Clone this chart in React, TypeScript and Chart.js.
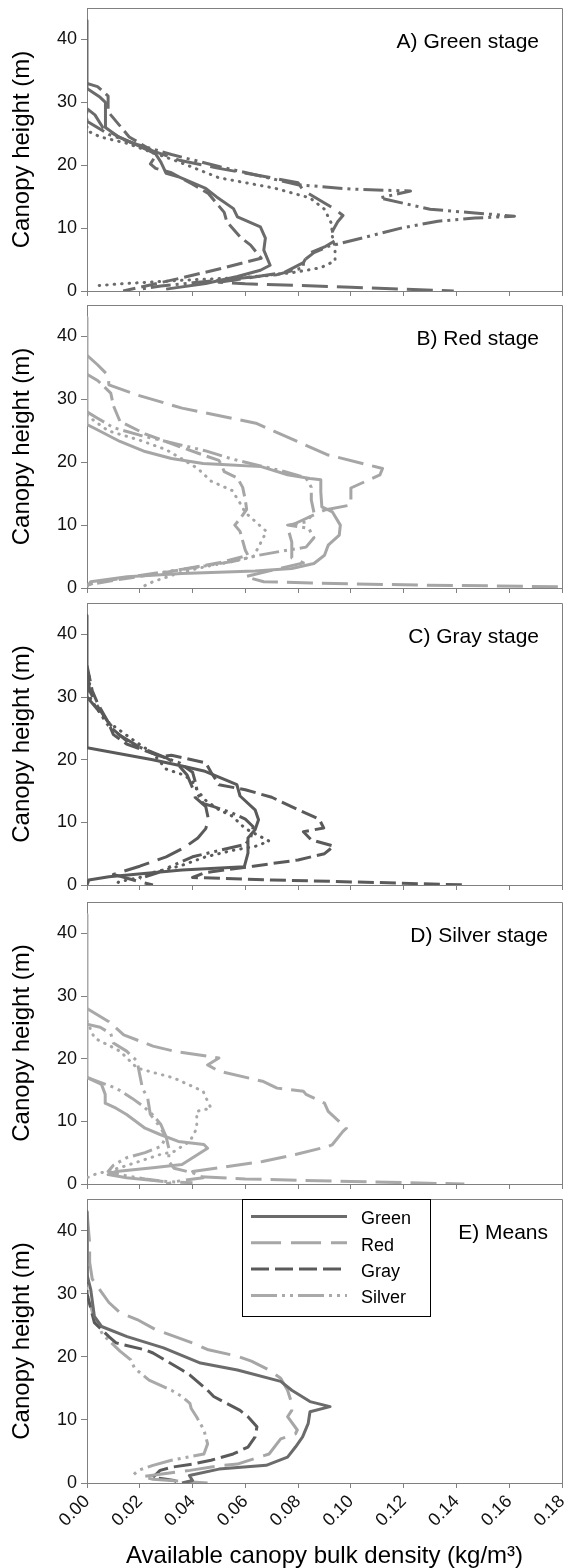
import React, { useEffect, useRef } from "react";
import { Chart, registerables } from "chart.js";

Chart.register(...registerables);

type Pt = [number, number]; // [bulk density kg/m3, canopy height m]

// ---------- tick values & texts ----------
const xTickValues = [0, 0.02, 0.04, 0.06, 0.08, 0.1, 0.12, 0.14, 0.16, 0.18];
const yTickValues = [0, 10, 20, 30, 40];
const panelTitles = ["A) Green stage", "B) Red stage", "C) Gray stage", "D) Silver stage", "E) Means"];
const legendLabels = ["Green", "Red", "Gray", "Silver"];
const xAxisTitle = "Available canopy bulk density (kg/m\u00B3)";
const yAxisTitle = "Canopy height (m)";

// ---------- A) Green stage ----------
const greenSolid: Pt[] = [[0,43],[0,32.2],[0.005,30.8],[0.007,30],[0.007,26],[0.012,24.5],[0.02,23],[0.026,21.8],[0.028,20.5],[0.03,18.7],[0.035,18.1],[0.045,16.3],[0.049,15],[0.0555,13.1],[0.057,11.8],[0.0657,10.2],[0.0676,8.4],[0.067,6.5],[0.0694,4.1],[0.0657,3.3],[0.057,2.3],[0.045,1.2],[0.03,0.3]];
const greenDashA: Pt[] = [[0,33],[0.004,32.5],[0.008,31],[0.008,28.5],[0.012,26.5],[0.016,24.5],[0.024,22.5],[0.026,21.5],[0.024,20.2],[0.026,19.5],[0.032,18.8],[0.04,17],[0.046,15.5],[0.05,13.5],[0.052,12.5],[0.053,11],[0.058,8.6],[0.062,7.3],[0.066,5.2],[0.05,3.5],[0.035,2],[0.0137,0]];
const greenDashB: Pt[] = [[0,29],[0.003,28],[0.006,26],[0.012,24.5],[0.02,23],[0.035,20.8],[0.05,19.5],[0.07,18],[0.08,17.2],[0.082,16],[0.086,15],[0.094,13],[0.097,12],[0.095,11],[0.093,9.5],[0.094,8],[0.09,7],[0.084,6],[0.082,4.5],[0.075,3],[0.06,2],[0.05,1.4],[0.06,1.15],[0.1,0.6],[0.139,0]];
const greenDot: Pt[] = [[0,28.5],[0,25.5],[0.005,24.5],[0.015,23.5],[0.025,22],[0.035,20.5],[0.05,18],[0.0706,16.4],[0.0845,14.8],[0.09,13],[0.0928,10.6],[0.0928,9],[0.094,6.9],[0.094,4.8],[0.0886,3.7],[0.0776,2.9],[0.061,2.2],[0.036,1.7],[0.015,1.2],[0.002,0.8]];
const greenDashDotDot: Pt[] = [[0,27],[0.0083,24.9],[0.019,23.3],[0.032,21.7],[0.05,19.8],[0.08,16.9],[0.1,16.2],[0.1226,15.9],[0.111,14.8],[0.13,13],[0.147,12.4],[0.162,11.9],[0.147,11.6],[0.133,11.1],[0.119,10],[0.105,8.5],[0.0914,7.1],[0.086,6.1],[0.082,4.8],[0.082,3.7],[0.072,2.6],[0.055,1.9],[0.04,1.3],[0.028,0.8],[0.02,0.3]];

// ---------- B) Red stage ----------
const redSolid: Pt[] = [[0,43],[0,26],[0.0028,25.4],[0.0125,23.3],[0.022,21.7],[0.032,20.6],[0.044,19.8],[0.053,19.6],[0.066,19.3],[0.076,18],[0.0845,17.4],[0.0886,17.2],[0.0886,15.3],[0.089,12.9],[0.093,12.1],[0.096,10],[0.0956,8.4],[0.0914,6.8],[0.09,5.2],[0.086,3.9],[0.0776,3.1],[0.0637,2.7],[0.036,2.3],[0.0152,1.8],[0.0014,1],[0,0.2]];
const redLongDash: Pt[] = [[0,37],[0.004,35.5],[0.008,33.8],[0.0083,32.3],[0.019,30.7],[0.036,28.6],[0.064,26.2],[0.071,24.9],[0.091,21.2],[0.112,19],[0.111,18],[0.1,15.9],[0.1,13.2],[0.09,12.4],[0.076,9.7],[0.0776,7.3],[0.0776,4.8],[0.082,4],[0.07,2.8],[0.06,1.8],[0.067,1],[0.085,0.8],[0.12,0.5],[0.18,0.2]];
const redDash: Pt[] = [[0,34],[0.004,33],[0.009,31],[0.01,29],[0.0125,26.5],[0.022,24.5],[0.035,22.5],[0.045,21],[0.05,20.3],[0.051,19.5],[0.052,18.5],[0.057,17.5],[0.059,16],[0.06,14],[0.0605,12.5],[0.058,11],[0.056,10],[0.058,9],[0.059,7.5],[0.06,6],[0.061,5.2],[0.05,4],[0.03,2.5],[0.01,1.2],[0,0.5]];
const redDot: Pt[] = [[0,27.5],[0.003,26.5],[0.008,25],[0.02,23.5],[0.03,22],[0.036,20.5],[0.042,19],[0.047,17],[0.055,15.5],[0.058,13.5],[0.06,12],[0.064,10.5],[0.068,9],[0.065,6.5],[0.063,5],[0.055,4.2],[0.045,3.4],[0.035,2.4],[0.025,1],[0.02,0]];
const redDashDotDot: Pt[] = [[0,28],[0.004,27],[0.01,25.5],[0.02,24.3],[0.03,23.3],[0.045,21.8],[0.055,20.5],[0.065,19.5],[0.075,18.5],[0.083,17.5],[0.085,16],[0.085,14],[0.086,12],[0.083,10.5],[0.076,10],[0.084,9.5],[0.086,8],[0.083,6.5],[0.073,5.8],[0.065,5.2],[0.055,4.2],[0.04,3.2],[0.02,2],[0.005,1],[0,0.5]];

// ---------- C) Gray stage ----------
const graySolid: Pt[] = [[0,43],[0,21.9],[0.0249,20],[0.036,19],[0.0443,18.2],[0.0568,16],[0.058,14.2],[0.0637,12],[0.065,10.4],[0.0637,8.8],[0.062,8],[0.061,7.5],[0.061,5.1],[0.0596,2.9],[0.036,2.4],[0.0083,1.3],[0.0007,0.8],[0,0]];
const grayDash: Pt[] = [[0,35],[0.002,31],[0.004,29],[0.008,26],[0.01,24],[0.015,22.5],[0.028,20.5],[0.032,20.7],[0.045,19.5],[0.047,18],[0.05,16],[0.06,15.2],[0.07,14],[0.08,12],[0.088,10.5],[0.0897,9.1],[0.082,8.5],[0.085,7.2],[0.0935,6.2],[0.09,5],[0.08,4],[0.063,3],[0.045,2],[0.04,1.2],[0.07,0.8],[0.11,0.4],[0.144,0]];
const grayLongDash: Pt[] = [[0,34],[0.001,31],[0.004,28.5],[0.008,26],[0.012,24],[0.02,22],[0.03,20.3],[0.035,19],[0.038,17.5],[0.04,15.5],[0.041,14],[0.045,12.5],[0.046,10.5],[0.045,9],[0.042,7.5],[0.037,6],[0.03,4.5],[0.02,3],[0.01,1.7],[0.02,0.5],[0.025,0]];
const grayDot: Pt[] = [[0,34.5],[0.001,33],[0.001,30],[0.004,28],[0.008,26],[0.018,23],[0.025,21],[0.03,18.5],[0.037,17.5],[0.04,16.5],[0.042,15],[0.045,13.5],[0.05,12],[0.055,11],[0.06,9],[0.069,7],[0.064,6.2],[0.055,5.5],[0.045,4.5],[0.035,3],[0.025,2],[0.02,1.2],[0.012,0.5],[0.011,0]];
const grayDashDot: Pt[] = [[0,30],[0.004,28],[0.008,25.5],[0.015,23],[0.025,21],[0.035,19.5],[0.04,18],[0.041,16.5],[0.042,14.5],[0.044,13],[0.048,12.5],[0.055,11.5],[0.06,10.5],[0.063,9.3],[0.062,7.5],[0.06,6.5],[0.052,5.7],[0.04,4.5],[0.033,3.2],[0.027,2],[0.02,1]];

// ---------- D) Silver stage ----------
const silverSolid: Pt[] = [[0,43],[0,17],[0.0055,15.9],[0.0069,14.3],[0.0069,12.9],[0.011,12.1],[0.015,11.1],[0.022,8.9],[0.0277,7.9],[0.0346,6.8],[0.0443,6.3],[0.0457,5.7],[0.036,3.1],[0.025,2.6],[0.011,2],[0.008,1.5],[0.015,1],[0.029,0.4]];
const silverLongDash: Pt[] = [[0,28],[0.0083,25.9],[0.0139,23.8],[0.025,22],[0.033,21.2],[0.05,20.1],[0.0457,19],[0.05,18],[0.0665,16.4],[0.072,15.3],[0.082,14.8],[0.083,14.3],[0.09,12.9],[0.0914,11.6],[0.0983,8.9],[0.097,8.4],[0.093,6.3],[0.0914,6],[0.079,4.7],[0.0665,3.6],[0.05,2.6],[0.04,2],[0.042,1.2],[0.06,0.8],[0.1,0.4],[0.143,0]];
const silverDashDot: Pt[] = [[0,25.5],[0.005,25],[0.009,24],[0.01,22.5],[0.015,21.2],[0.019,19.6],[0.02,17.4],[0.021,15.3],[0.023,13.7],[0.024,11.1],[0.027,9.5],[0.03,7.5],[0.031,5.7],[0.031,3.6],[0.033,2.5],[0.04,1.8],[0.044,1],[0.035,0.5],[0.03,0]];
const silverDot: Pt[] = [[0,26],[0.0028,23.3],[0.0125,21.2],[0.019,18.5],[0.033,16.9],[0.044,14.8],[0.0457,13.2],[0.047,12.1],[0.0416,11.6],[0.0416,8.9],[0.039,6.8],[0.033,5.2],[0.0277,4.7],[0.0125,2.6],[0.0028,1.5],[0,1]];
const silverDashDotDot: Pt[] = [[0,17],[0.005,16.2],[0.011,15.3],[0.017,13.7],[0.021,12.5],[0.025,11],[0.028,9.5],[0.03,7.5],[0.028,6],[0.022,5],[0.015,4.2],[0.01,3],[0.008,2],[0.015,1.3],[0.022,0.8],[0.03,0.4],[0.04,0.2]];

// ---------- E) Means ----------
const meanGreen: Pt[] = [[0,43],[0,33],[0.0014,30.7],[0.0028,26.4],[0.0055,24.8],[0.0152,23.2],[0.029,21.4],[0.043,19],[0.057,17.9],[0.0734,16.1],[0.0776,14.7],[0.0845,12.9],[0.0921,12.1],[0.0845,11.3],[0.0838,9.4],[0.0817,7.3],[0.079,5.7],[0.076,4.1],[0.0679,2.8],[0.05,2.2],[0.0388,1.2],[0.04,0.4],[0.036,0]];
const meanRed: Pt[] = [[0,43],[0.001,38],[0.001,35],[0.002,32.3],[0.0083,28.6],[0.0125,27],[0.019,25.9],[0.026,24.3],[0.04,22.2],[0.046,21.1],[0.057,20.1],[0.0623,19.3],[0.069,17.9],[0.0734,16.6],[0.076,14.7],[0.0776,12.6],[0.0776,11.5],[0.076,10.5],[0.0797,8.4],[0.079,7.8],[0.0734,7],[0.069,4.6],[0.057,3],[0.0513,2.8],[0.039,2],[0.0208,1],[0.025,0.6],[0.035,0.3],[0.0457,0]];
const meanGray: Pt[] = [[0,42],[0,30],[0.0028,25.4],[0.0083,23.2],[0.011,22.2],[0.022,21.1],[0.025,20.6],[0.036,17.9],[0.039,17.1],[0.0457,14.7],[0.048,13.7],[0.058,11.5],[0.061,10.5],[0.0644,8.9],[0.0637,7.3],[0.061,5.7],[0.0554,4.6],[0.047,3.6],[0.04,3],[0.032,2.5],[0.0277,2],[0.025,0.9],[0.03,0.6],[0.033,0.4],[0.035,0]];
const meanSilver: Pt[] = [[0,36],[0,30],[0.0014,28],[0.0028,26],[0.006,23.5],[0.0125,20.9],[0.0166,19.5],[0.018,18.2],[0.0235,16.3],[0.032,14.7],[0.036,13.7],[0.039,12.6],[0.0395,11.8],[0.0415,10.5],[0.0443,8.4],[0.0457,6.2],[0.0443,4.6],[0.032,3.6],[0.025,2.8],[0.0194,2],[0.0166,0.9]];

// ---------- styles ----------
const DASH: Record<string, number[]> = {
  solid: [],
  longDash: [26, 9],
  dash: [16, 6],
  dot: [0.5, 7],
  dashDot: [20, 6, 3, 6],
  dashDotDot: [20, 5, 3, 5, 3, 5],
  legendRed: [30, 10],
  legendGray: [18, 6],
  legendSilver: [26, 5, 3, 5, 3, 5],
};
const C_GREEN = "#6b6b6b";
const C_RED = "#a6a6a6";
const C_GRAY = "#5a5a5a";
const C_SILVER = "#a9a9a9";
const AXIS_COLOR = "#808080";
const FONT = "'Liberation Sans', Arial, Helvetica, sans-serif";

interface LineSpec { label: string; pts: Pt[]; color: string; dash: string }
interface PanelSpec { title: string; top: number; bottom: number; labelRight: number; lines: LineSpec[]; legend?: boolean }

const PAGE_W = 573;
const PAGE_H = 1568;
const PLOT_LEFT = 87;
const PLOT_RIGHT = 562;
const PAD_TOP = 4;

const panels: PanelSpec[] = [
  { title: panelTitles[0], top: 8, bottom: 291, labelRight: 539, lines: [
    { label: "solid", pts: greenSolid, color: C_GREEN, dash: "solid" },
    { label: "dashA", pts: greenDashA, color: C_GREEN, dash: "dash" },
    { label: "dashB", pts: greenDashB, color: C_GREEN, dash: "longDash" },
    { label: "dot", pts: greenDot, color: C_GREEN, dash: "dot" },
    { label: "dashDotDot", pts: greenDashDotDot, color: C_GREEN, dash: "dashDotDot" },
  ]},
  { title: panelTitles[1], top: 305, bottom: 588, labelRight: 539, lines: [
    { label: "solid", pts: redSolid, color: C_RED, dash: "solid" },
    { label: "longDash", pts: redLongDash, color: C_RED, dash: "longDash" },
    { label: "dash", pts: redDash, color: C_RED, dash: "dash" },
    { label: "dot", pts: redDot, color: C_RED, dash: "dot" },
    { label: "dashDotDot", pts: redDashDotDot, color: C_RED, dash: "dashDotDot" },
  ]},
  { title: panelTitles[2], top: 603, bottom: 885, labelRight: 539, lines: [
    { label: "solid", pts: graySolid, color: C_GRAY, dash: "solid" },
    { label: "dash", pts: grayDash, color: C_GRAY, dash: "dash" },
    { label: "longDash", pts: grayLongDash, color: C_GRAY, dash: "longDash" },
    { label: "dot", pts: grayDot, color: C_GRAY, dash: "dot" },
    { label: "dashDot", pts: grayDashDot, color: C_GRAY, dash: "dashDotDot" },
  ]},
  { title: panelTitles[3], top: 902, bottom: 1184, labelRight: 548, lines: [
    { label: "solid", pts: silverSolid, color: C_SILVER, dash: "solid" },
    { label: "longDash", pts: silverLongDash, color: C_SILVER, dash: "longDash" },
    { label: "dashDot", pts: silverDashDot, color: C_SILVER, dash: "dashDot" },
    { label: "dot", pts: silverDot, color: C_SILVER, dash: "dot" },
    { label: "dashDotDot", pts: silverDashDotDot, color: C_SILVER, dash: "dashDotDot" },
  ]},
  { title: panelTitles[4], top: 1199, bottom: 1483, labelRight: 548, legend: true, lines: [
    { label: legendLabels[0], pts: meanGreen, color: C_GREEN, dash: "solid" },
    { label: legendLabels[1], pts: meanRed, color: C_RED, dash: "legendRed" },
    { label: legendLabels[2], pts: meanGray, color: C_GRAY, dash: "legendGray" },
    { label: legendLabels[3], pts: meanSilver, color: C_SILVER, dash: "legendSilver" },
  ]},
];

function Panel({ spec, last }: { spec: PanelSpec; last: boolean }) {
  const ref = useRef<HTMLCanvasElement>(null);
  const canvasTop = spec.top - PAD_TOP;
  const xH = last ? PAGE_H - spec.bottom : 8;
  const h = spec.bottom - canvasTop + xH;

  useEffect(() => {
    if (!ref.current) return;
    const decorPlugin = {
      id: "decor",
      afterDatasetsDraw(chart: any) {
        const { ctx, chartArea: a } = chart;
        ctx.save();
        // frame top & right
        ctx.strokeStyle = AXIS_COLOR;
        ctx.lineWidth = 1;
        ctx.setLineDash([]);
        ctx.beginPath();
        ctx.moveTo(a.left, Math.round(a.top) + 0.5);
        ctx.lineTo(Math.round(a.right) + 0.5, Math.round(a.top) + 0.5);
        ctx.lineTo(Math.round(a.right) + 0.5, a.bottom);
        ctx.stroke();
        // panel label
        ctx.fillStyle = "#000";
        ctx.font = `21px ${FONT}`;
        ctx.textAlign = "right";
        ctx.textBaseline = "middle";
        ctx.fillText(spec.title, spec.labelRight, a.top + 34);
        // legend
        if (spec.legend) {
          const bx = 242.5, by = Math.round(a.top) + 0.5, bw = 188, bh = 117;
          ctx.fillStyle = "#fff";
          ctx.fillRect(bx, by, bw, bh);
          ctx.strokeStyle = "#000";
          ctx.lineWidth = 1;
          ctx.strokeRect(bx, by, bw, bh);
          spec.lines.forEach((ln, i) => {
            const ry = by + 17 + i * 26.3;
            ctx.strokeStyle = ln.color;
            ctx.lineWidth = 3;
            ctx.lineCap = "butt";
            ctx.setLineDash(DASH[ln.dash]);
            ctx.beginPath();
            ctx.moveTo(251, ry);
            ctx.lineTo(347, ry);
            ctx.stroke();
            ctx.setLineDash([]);
            ctx.fillStyle = "#000";
            ctx.font = `18px ${FONT}`;
            ctx.textAlign = "left";
            ctx.textBaseline = "middle";
            ctx.fillText(ln.label, 361, ry + 3);
          });
        }
        ctx.restore();
      },
    };

    const chart = new Chart(ref.current, {
      type: "line",
      data: {
        datasets: spec.lines.map((ln) => ({
          label: ln.label,
          data: ln.pts.map(([x, y]) => ({ x, y })),
          borderColor: ln.color,
          backgroundColor: ln.color,
          borderWidth: 3,
          borderDash: DASH[ln.dash],
          borderCapStyle: ln.dash === "dot" ? "round" : "butt",
          borderJoinStyle: "round",
          pointRadius: 0,
          tension: 0,
          fill: false,
        })),
      },
      options: {
        responsive: false,
        maintainAspectRatio: false,
        animation: false,
        events: [],
        layout: { autoPadding: false, padding: { top: PAD_TOP, left: 0, right: PAGE_W - PLOT_RIGHT, bottom: 0 } },
        plugins: { legend: { display: false }, tooltip: { enabled: false }, title: { display: false } },
        scales: {
          x: {
            type: "linear",
            min: 0,
            max: 0.18,
            afterBuildTicks: (s: any) => { s.ticks = xTickValues.map((v) => ({ value: v })); },
            afterFit: (s: any) => { s.height = xH; s.paddingLeft = 0; s.paddingRight = 0; },
            grid: { drawOnChartArea: false, drawTicks: true, tickLength: 5, color: AXIS_COLOR },
            border: { display: true, color: AXIS_COLOR, width: 1 },
            ticks: {
              display: last,
              autoSkip: false,
              maxRotation: 45,
              minRotation: 45,
              padding: 3,
              color: "#111",
              font: { family: FONT, size: 18 },
              callback: (v: any) => Number(v).toFixed(2),
            },
            title: { display: last, text: xAxisTitle, color: "#000", font: { family: FONT, size: 24 }, padding: { top: 0, bottom: -3 } },
          },
          y: {
            type: "linear",
            min: 0,
            max: 45,
            afterBuildTicks: (s: any) => { s.ticks = yTickValues.map((v) => ({ value: v })); },
            afterFit: (s: any) => { s.width = PLOT_LEFT; s.paddingTop = 0; s.paddingBottom = 0; },
            grid: { drawOnChartArea: false, drawTicks: true, tickLength: 6, color: AXIS_COLOR },
            border: { display: true, color: AXIS_COLOR, width: 1 },
            ticks: { autoSkip: false, padding: 4, color: "#111", font: { family: FONT, size: 18 }, callback: (v: any) => String(v) },
            title: { display: true, text: yAxisTitle, color: "#000", font: { family: FONT, size: 24 }, padding: { top: 8, bottom: 0 } },
          },
        },
      },
      plugins: [decorPlugin],
    } as any);
    return () => chart.destroy();
  }, []);

  return (
    <canvas
      ref={ref}
      width={PAGE_W}
      height={h}
      style={{ position: "absolute", left: 0, top: canvasTop, width: PAGE_W, height: h, display: "block" }}
    />
  );
}

export default function App() {
  return (
    <div style={{ position: "absolute", left: 0, top: 0, width: PAGE_W, height: PAGE_H, background: "#fff" }}>
      {panels.map((p, i) => (
        <Panel key={p.title} spec={p} last={i === panels.length - 1} />
      ))}
    </div>
  );
}
